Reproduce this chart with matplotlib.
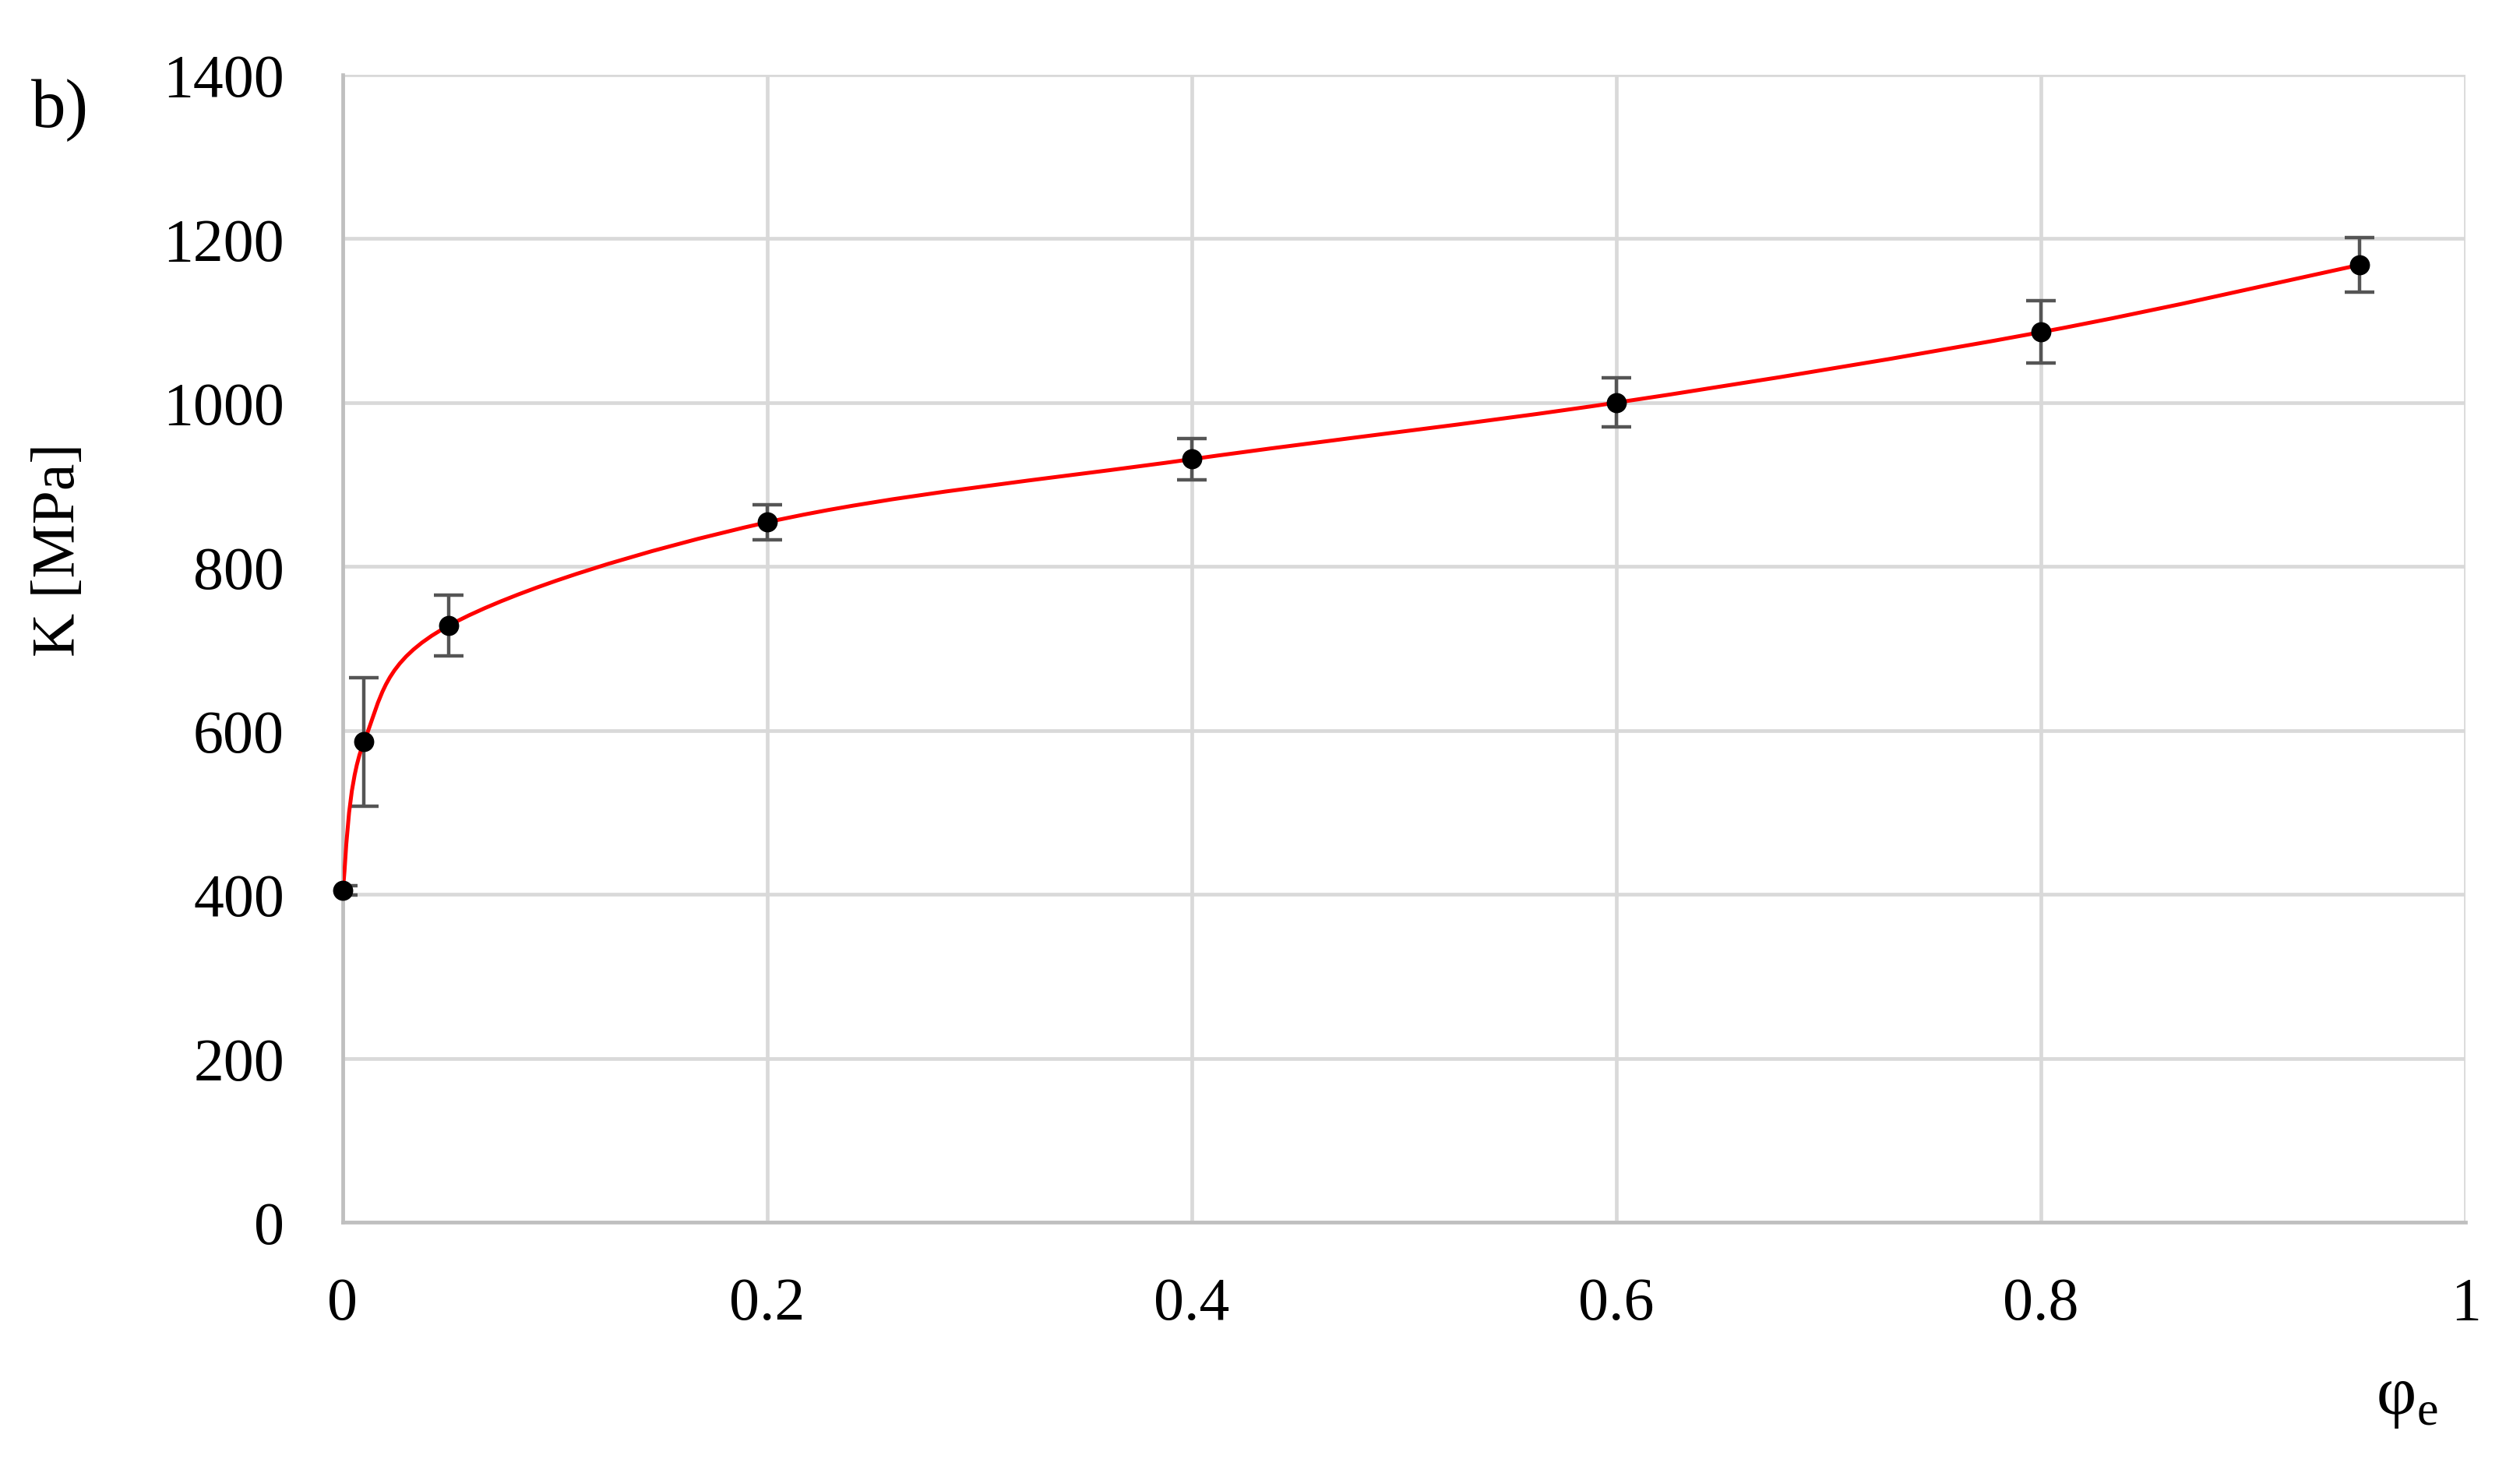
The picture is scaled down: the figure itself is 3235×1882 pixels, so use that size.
import matplotlib
matplotlib.use("Agg")
import matplotlib.pyplot as plt
from matplotlib.path import Path
from matplotlib.patches import PathPatch

# data
phi_e = [0, 0.01, 0.05, 0.2, 0.4, 0.6, 0.8, 0.95]
k_mpa = [405, 586, 728, 854, 931, 1000, 1086, 1168]
k_err = [6, 78, 37, 21, 25, 30, 38, 33]
x_ticks = [0, 0.2, 0.4, 0.6, 0.8, 1]
x_labels = ["0", "0.2", "0.4", "0.6", "0.8", "1"]
y_ticks = [0, 200, 400, 600, 800, 1000, 1200, 1400]

plt.rcParams["font.family"] = ["Liberation Serif", "DejaVu Serif"]
plt.rcParams["mathtext.fontset"] = "custom"
plt.rcParams["mathtext.rm"] = "Liberation Serif"
FS = 28
GRID = "#d9d9d9"
SPINE = "#bfbfbf"


def smooth_path(xs, ys):
    # Excel-like smoothed line: cubic Bezier through every point (Catmull-Rom tangents)
    n = len(xs)
    verts = [(xs[0], ys[0])]
    codes = [Path.MOVETO]
    for i in range(n - 1):
        p0 = max(i - 1, 0)
        p3 = min(i + 2, n - 1)
        c1 = (xs[i] + (xs[i + 1] - xs[p0]) / 6, ys[i] + (ys[i + 1] - ys[p0]) / 6)
        c2 = (xs[i + 1] - (xs[p3] - xs[i]) / 6, ys[i + 1] - (ys[p3] - ys[i]) / 6)
        verts += [c1, c2, (xs[i + 1], ys[i + 1])]
        codes += [Path.CURVE4] * 3
    return Path(verts, codes)


fig = plt.figure(figsize=(16.175, 9.415), dpi=200)
ax = fig.add_axes([0.136, 0.1662, 0.9784 - 0.136, 0.9485 - 0.1662])

ax.set_xlim(0, 1)
ax.set_ylim(0, 1400)
ax.set_xticks(x_ticks)
ax.set_xticklabels(x_labels)
ax.set_yticks(y_ticks)
ax.tick_params(axis="both", length=0, labelsize=FS, colors="black")
ax.tick_params(axis="y", pad=27)
ax.tick_params(axis="x", pad=25)
ax.grid(True, color=GRID, lw=1.7)
ax.set_axisbelow(True)
for s in ["top", "right"]:
    ax.spines[s].set_visible(False)
for s in ["left", "bottom"]:
    ax.spines[s].set_color(SPINE)
    ax.spines[s].set_linewidth(1.7)
    ax.spines[s].set_zorder(2.5)

ax.errorbar(phi_e, k_mpa, yerr=k_err, fmt="none", ecolor="#555555",
            elinewidth=1.6, capsize=7, capthick=1.6, zorder=3)
ax.add_patch(PathPatch(smooth_path(phi_e, k_mpa), fill=False,
                       edgecolor="#ff0000", lw=1.8, zorder=4))
ax.plot(phi_e, k_mpa, "o", color="black", ms=8.3, zorder=5, clip_on=False)

fig.text(0.0124, 0.9134, "b)", fontsize=32, ha="left", va="baseline")
fig.text(0.0235, 0.625, "K [MPa]", fontsize=FS, rotation=90,
         ha="center", va="center")
fig.text(0.955, 0.036, r"φ$_\mathregular{e}$", fontsize=32,
         ha="center", va="baseline")

fig.savefig("out.png", dpi=200, facecolor="white")
